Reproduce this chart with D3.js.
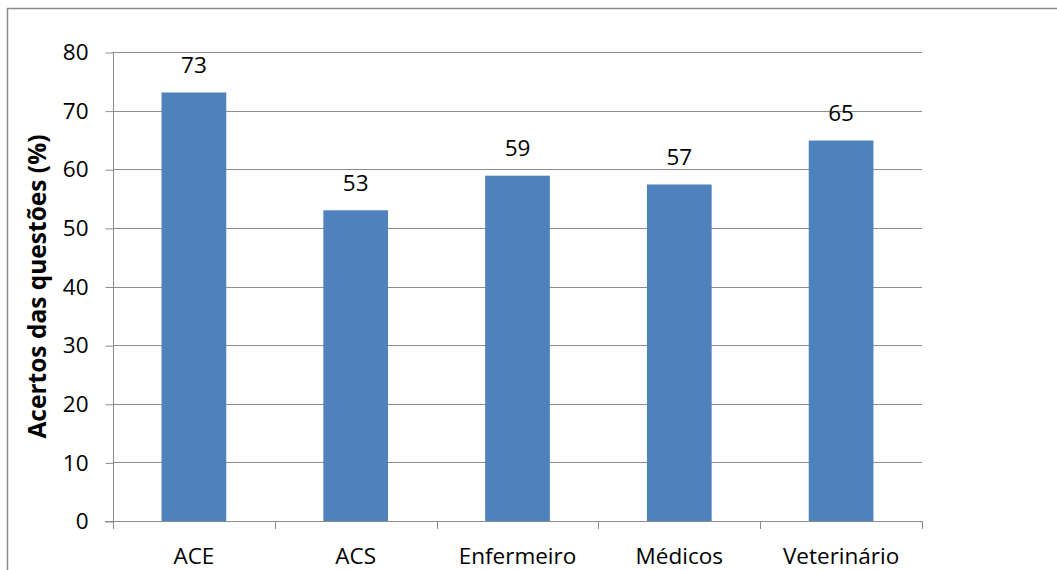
<!DOCTYPE html>
<html>
<head>
<meta charset="utf-8">
<script src="https://cdn.jsdelivr.net/npm/d3@7"></script>
<style>
  html, body { margin: 0; padding: 0; background: #fff; overflow: hidden; }
  svg { display: block; }
  text { font-family: "Open Sans", Lato, sans-serif; fill: #000; }
</style>
</head>
<body>
<svg id="chart" width="1057" height="570"></svg>
<script>
// Percentage of correct answers by professional group
const categories = ["ACE", "ACS", "Enfermeiro", "Médicos", "Veterinário"];
const values = [73.1, 53.0, 58.9, 57.4, 64.9];
const yTicks = [0, 10, 20, 30, 40, 50, 60, 70, 80];
const yTitle = "Acertos das questões (%)";

const W = 1057, H = 570;
const plot = { left: 113, right: 922, top: 52, bottom: 521 };
const FONT = 22.5;
const GRID = "#8c8c8c";

const svg = d3.select("#chart");

// outer frame (continues past the right and bottom edges)
svg.append("rect")
  .attr("x", 7.5).attr("y", 8.5)
  .attr("width", W + 20).attr("height", H + 20)
  .attr("fill", "#fff").attr("stroke", "#8a8a8a").attr("stroke-width", 1.5);

const x = d3.scaleBand().domain(categories)
  .range([plot.left, plot.right]).paddingInner(0.6).paddingOuter(0.3);
const y = d3.scaleLinear().domain([0, 80]).range([plot.bottom, plot.top]);

// horizontal gridlines
svg.append("g").selectAll("line").data(yTicks.filter(d => d > 0)).join("line")
  .attr("x1", plot.left).attr("x2", plot.right)
  .attr("y1", d => Math.round(y(d)) + 0.5).attr("y2", d => Math.round(y(d)) + 0.5)
  .attr("stroke", GRID).attr("stroke-width", 1);

// y axis
const yAxis = svg.append("g")
  .attr("transform", `translate(${plot.left + 0.5},0.5)`)
  .call(d3.axisLeft(y).tickValues(yTicks).tickSize(8).tickPadding(17).tickFormat(d3.format("d")));
yAxis.select(".domain").attr("stroke", GRID).attr("d", `M0,${Math.round(y(80))}V${Math.round(y(0))}`);
yAxis.selectAll(".tick line").attr("stroke", GRID);
yAxis.selectAll(".tick text").attr("font-size", FONT).attr("fill", "#000")
  .attr("font-family", "'Open Sans', sans-serif");

// x axis with boundary ticks between categories
const xg = svg.append("g");
xg.append("line")
  .attr("x1", plot.left - 8).attr("x2", plot.right)
  .attr("y1", Math.round(y(0)) + 0.5).attr("y2", Math.round(y(0)) + 0.5)
  .attr("stroke", GRID);
const step = x.step();
const bounds = d3.range(categories.length + 1).map(i => plot.left + i * step);
xg.selectAll(".bt").data(bounds).join("line")
  .attr("x1", d => Math.round(d) + 0.5).attr("x2", d => Math.round(d) + 0.5)
  .attr("y1", Math.round(y(0))).attr("y2", Math.round(y(0)) + 8)
  .attr("stroke", GRID);
xg.selectAll(".cl").data(categories).join("text")
  .attr("x", d => x(d) + x.bandwidth() / 2)
  .attr("y", 564)
  .attr("text-anchor", "middle")
  .attr("font-size", FONT)
  .text(d => d);

// bars
const data = categories.map((c, i) => ({ c, v: values[i] }));
svg.append("g").selectAll("rect").data(data).join("rect")
  .attr("x", d => x(d.c))
  .attr("y", d => y(d.v))
  .attr("width", x.bandwidth())
  .attr("height", d => y(0) - y(d.v))
  .attr("fill", "#4f81bd");

// value labels
svg.append("g").selectAll("text").data(data).join("text")
  .attr("x", d => x(d.c) + x.bandwidth() / 2)
  .attr("y", d => y(d.v) - 19.5)
  .attr("text-anchor", "middle")
  .attr("font-size", FONT)
  .text(d => d3.format(".0f")(d.v));

// y axis title
svg.append("text")
  .attr("transform", `translate(46,${(plot.top + plot.bottom) / 2}) rotate(-90)`)
  .attr("text-anchor", "middle")
  .attr("font-size", 24.5)
  .attr("font-weight", "bold")
  .text(yTitle);
</script>
</body>
</html>
